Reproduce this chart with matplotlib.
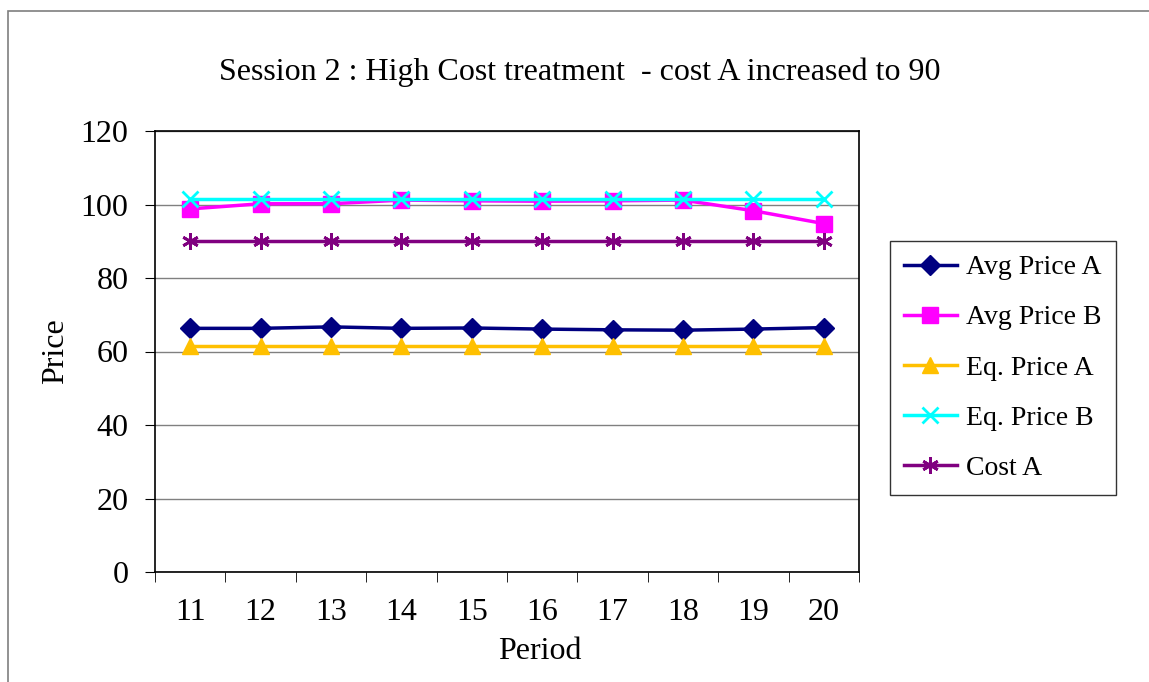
import matplotlib.pyplot as plt
from matplotlib.patches import Rectangle
import numpy as np

periods = ["11", "12", "13", "14", "15", "16", "17", "18", "19", "20"]
avg_price_a = [66.3, 66.3, 66.7, 66.3, 66.4, 66.1, 65.9, 65.8, 66.1, 66.5]
avg_price_b = [98.8, 100.2, 100.2, 101.2, 101.0, 100.9, 101.0, 101.2, 98.3, 94.8]
eq_price_a = [61.5] * 10
eq_price_b = [101.5] * 10
cost_a = [90] * 10

plt.rcParams['font.family'] = ['Liberation Serif', 'DejaVu Serif']

fig = plt.figure(figsize=(11.49, 6.82), dpi=100)
ax = fig.add_axes([155 / 1149, 1 - 572 / 682, 704 / 1149, 441 / 682])

# outer chart frame
fig.patches.append(Rectangle((8 / 1149, -0.1), 1.2, 1 - 11 / 682 + 0.1,
                             transform=fig.transFigure, fill=False,
                             edgecolor='#7f7f7f', linewidth=1.2))

x = np.arange(len(periods))
ax.plot(x, avg_price_a, color='#000080', marker='D', markersize=10, lw=2.5, label='Avg Price A')
ax.plot(x, avg_price_b, color='#ff00ff', marker='s', markersize=11, lw=2.5, label='Avg Price B')
ax.plot(x, eq_price_a, color='#ffc000', marker='^', markersize=12, lw=2.5, label='Eq. Price A')
ax.plot(x, eq_price_b, color='#00ffff', marker='x', markersize=11, mew=2, lw=2.5, label='Eq. Price B')
ax.plot(x, cost_a, color='#800080', marker=(6, 2, 0), markersize=12, mew=2, lw=2.5, label='Cost A')

ax.set_xlim(-0.5, len(periods) - 0.5)
ax.set_ylim(0, 120)
ax.set_yticks(range(0, 121, 20))
ax.yaxis.grid(True, color='#808080', lw=1)
ax.set_axisbelow(True)
ax.set_xticks(x)
ax.set_xticklabels(periods)
ax.set_xticks(np.arange(-0.5, len(periods)), minor=True)
ax.tick_params(axis='x', which='major', length=0, labelsize=23, pad=19)
ax.tick_params(axis='x', which='minor', length=7, direction='out')
ax.tick_params(axis='y', length=7, direction='out', labelsize=23, pad=12)
for s in ax.spines.values():
    s.set_linewidth(1.2)

ax.set_xlabel('Period', fontsize=23)
ax.xaxis.set_label_coords((540 - 155) / 704, -0.147)
ax.set_ylabel('Price', fontsize=23, labelpad=8)
fig.text(580 / 1149, 1 - 72 / 682, 'Session 2 : High Cost treatment  - cost A increased to 90',
         ha='center', va='center', fontsize=23)

leg = fig.legend(loc='upper left', bbox_to_anchor=(890 / 1149, 1 - 241 / 682),
                 fontsize=20, frameon=True, fancybox=False, edgecolor='black',
                 labelspacing=0.89, handlelength=1.9, handletextpad=0.35,
                 borderpad=0.5, borderaxespad=0)
leg.get_frame().set_linewidth(1)

fig.savefig('out.png', dpi=100)
